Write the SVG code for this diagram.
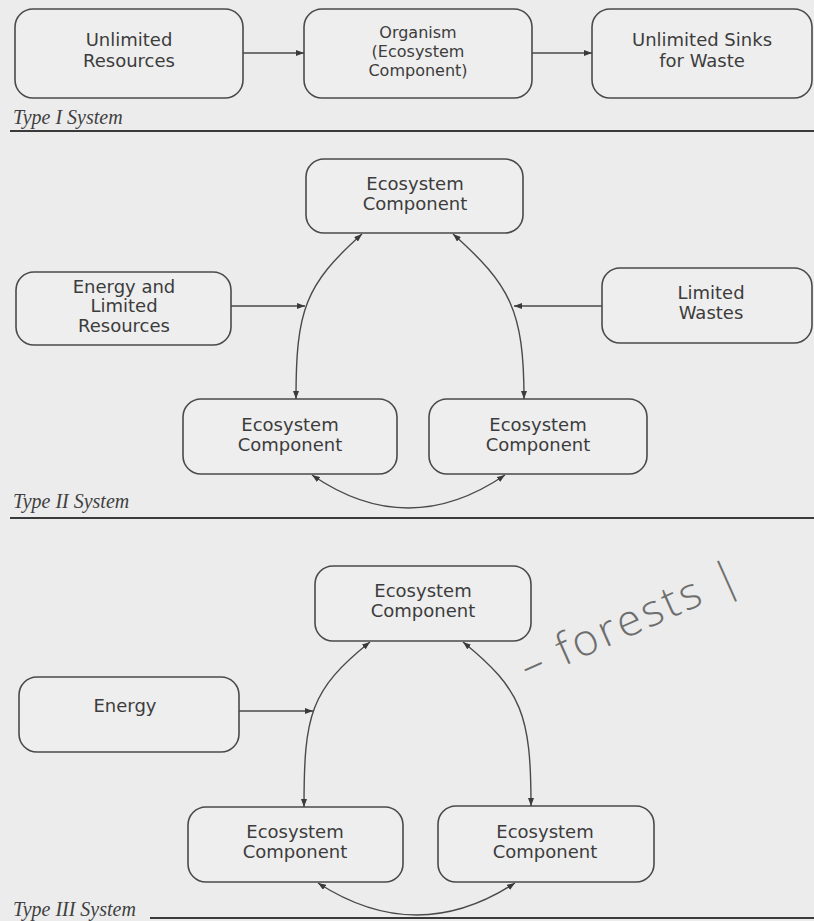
<svg xmlns="http://www.w3.org/2000/svg" width="814" height="921" viewBox="0 0 814 921">
<style>
.bg{fill:#ececec}
.box{fill:#eeeeee;stroke:#4a4a4a;stroke-width:1.6}
.t{font-family:"DejaVu Sans","Liberation Sans",sans-serif;font-size:18px;fill:#3c3c3c;text-anchor:middle}
.t2{font-family:"DejaVu Sans","Liberation Sans",sans-serif;font-size:16px;fill:#3c3c3c;text-anchor:middle}
.lab{font-family:"Liberation Serif",serif;font-style:italic;font-size:20px;fill:#404040}
.rule{stroke:#3a3a3a;stroke-width:2}
.c{fill:none;stroke:#4a4a4a;stroke-width:1.4}
.hand{font-family:"Open Sans","DejaVu Sans",sans-serif;font-weight:300;font-size:44px;fill:#6e6e6e;letter-spacing:3px}
</style>
<defs>
<marker id="ah" viewBox="0 0 8 6" refX="8" refY="3" markerWidth="8" markerHeight="6" markerUnits="userSpaceOnUse" orient="auto-start-reverse">
<path d="M0,0 L8,3 L0,6 z" fill="#3a3a3a"/>
</marker>
</defs>
<rect class="bg" x="0" y="0" width="814" height="921"/>

<!-- Type I -->
<g id="t1-resources"><rect class="box" x="15" y="9" width="228" height="89" rx="18"/>
<text class="t" x="129" y="46">Unlimited</text><text class="t" x="129" y="67">Resources</text></g>
<g id="t1-organism"><rect class="box" x="304" y="9" width="228" height="89" rx="18"/>
<text class="t2" x="418" y="38">Organism</text><text class="t2" x="418" y="57">(Ecosystem</text><text class="t2" x="418" y="76">Component)</text></g>
<g id="t1-sinks"><rect class="box" x="592" y="9" width="220" height="89" rx="18"/>
<text class="t" x="702" y="46">Unlimited Sinks</text><text class="t" x="702" y="67">for Waste</text></g>
<text class="lab" x="13" y="124">Type I System</text>
<line class="rule" x1="10" y1="131" x2="814" y2="131"/>

<!-- Type II -->
<g id="t2-top"><rect class="box" x="306" y="159" width="217" height="74" rx="18"/>
<text class="t" x="415" y="190">Ecosystem</text><text class="t" x="415" y="210">Component</text></g>
<g id="t2-energy"><rect class="box" x="16" y="272" width="215" height="73" rx="18"/>
<text class="t" x="124" y="293">Energy and</text><text class="t" x="124" y="312">Limited</text><text class="t" x="124" y="332">Resources</text></g>
<g id="t2-wastes"><rect class="box" x="602" y="268" width="210" height="75" rx="18"/>
<text class="t" x="711" y="299">Limited</text><text class="t" x="711" y="319">Wastes</text></g>
<g id="t2-left"><rect class="box" x="183" y="399" width="214" height="75" rx="18"/>
<text class="t" x="290" y="431">Ecosystem</text><text class="t" x="290" y="451">Component</text></g>
<g id="t2-right"><rect class="box" x="429" y="399" width="218" height="75" rx="18"/>
<text class="t" x="538" y="431">Ecosystem</text><text class="t" x="538" y="451">Component</text></g>
<text class="lab" x="13" y="508">Type II System</text>
<line class="rule" x1="10" y1="518" x2="814" y2="518"/>

<!-- Type III -->
<g id="t3-top"><rect class="box" x="315" y="566" width="216" height="75" rx="18"/>
<text class="t" x="423" y="597">Ecosystem</text><text class="t" x="423" y="617">Component</text></g>
<g id="t3-energy"><rect class="box" x="19" y="677" width="220" height="75" rx="18"/>
<text class="t" x="125" y="712">Energy</text></g>
<g id="t3-left"><rect class="box" x="188" y="807" width="215" height="75" rx="18"/>
<text class="t" x="295" y="838">Ecosystem</text><text class="t" x="295" y="858">Component</text></g>
<g id="t3-right"><rect class="box" x="438" y="806" width="216" height="76" rx="18"/>
<text class="t" x="545" y="838">Ecosystem</text><text class="t" x="545" y="858">Component</text></g>
<text class="lab" x="13" y="916">Type III System</text>
<line class="rule" x1="150" y1="918" x2="814" y2="918"/>

<g id="connectors">
<line class="c" x1="243" y1="53" x2="304" y2="53" marker-end="url(#ah)"/>
<line class="c" x1="532" y1="53" x2="592" y2="53" marker-end="url(#ah)"/>

<line class="c" x1="231" y1="306" x2="305" y2="306" marker-end="url(#ah)"/>
<line class="c" x1="602" y1="306" x2="514" y2="306" marker-end="url(#ah)"/>
<path class="c" d="M362,234 C305,285 296,310 296,399" marker-start="url(#ah)" marker-end="url(#ah)"/>
<path class="c" d="M453,234 C510,285 524,310 524,399" marker-start="url(#ah)" marker-end="url(#ah)"/>
<path class="c" d="M312,475 Q408,541 505,475" marker-start="url(#ah)" marker-end="url(#ah)"/>

<line class="c" x1="239" y1="711" x2="313" y2="711" marker-end="url(#ah)"/>
<path class="c" d="M370,642 C310,690 304,715 304,807" marker-start="url(#ah)" marker-end="url(#ah)"/>
<path class="c" d="M463,642 C522,690 531,715 531,806" marker-start="url(#ah)" marker-end="url(#ah)"/>
<path class="c" d="M318,883 Q417,947 515,883" marker-start="url(#ah)" marker-end="url(#ah)"/>
</g>

<text class="hand" x="528" y="682" transform="rotate(-24 528 682)">– forests |</text>
</svg>
